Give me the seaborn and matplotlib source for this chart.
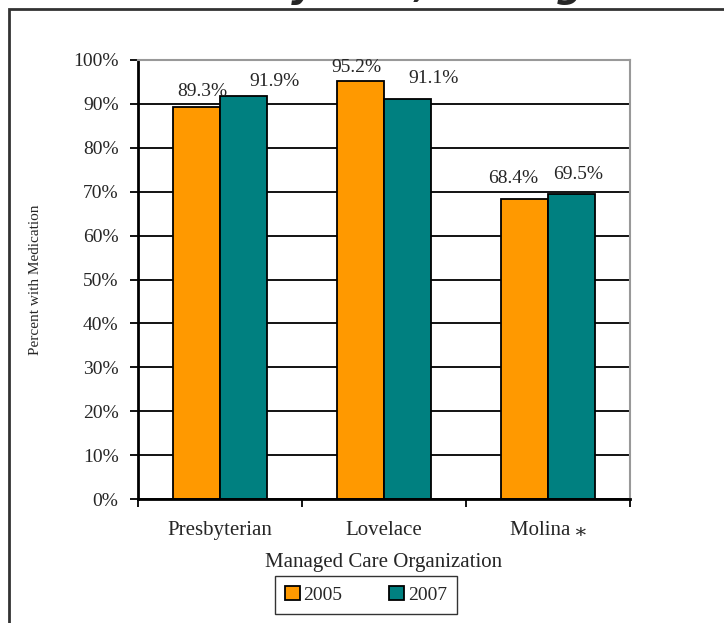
import pandas as pd
import matplotlib
matplotlib.use("Agg")
import matplotlib.pyplot as plt
import seaborn as sns
from matplotlib.ticker import PercentFormatter
from matplotlib.patches import Rectangle

# data
organizations = ["Presbyterian", "Lovelace", "Molina \u204e"]
years = ["2005", "2007"]
pct_2005 = [89.3, 95.2, 68.4]
pct_2007 = [91.9, 91.1, 69.5]
bar_colors = ["#FF9900", "#008080"]

# label nudges (pixels) to mimic where Excel put the data labels
label_dx = [[6, -4, -11], [31, 26, 7]]
label_dy = [[11, 9, 16], [10, 16, 15]]

df = pd.DataFrame({
    "org": organizations * 2,
    "year": [years[0]] * 3 + [years[1]] * 3,
    "pct": pct_2005 + pct_2007,
})

sns.set_style("white")
plt.rcParams["font.family"] = ["Liberation Serif", "DejaVu Serif"]

fig = plt.figure(figsize=(7.24, 6.23), dpi=100)
ax = fig.add_axes([0.1906, 0.199, 0.6796, 0.7047])

sns.barplot(data=df, x="org", y="pct", hue="year", palette=bar_colors, saturation=1,
            width=0.575, edgecolor="black", linewidth=1.3, ax=ax, legend=True)

# value labels above bars
for i, cont in enumerate(ax.containers):
    for j, bar in enumerate(cont):
        ax.annotate(f"{bar.get_height():.1f}%",
                    (bar.get_x() + bar.get_width() / 2, bar.get_height()),
                    xytext=(label_dx[i][j] * 0.72, label_dy[i][j] * 0.72),
                    textcoords="offset points", ha="center", va="baseline", fontsize=14)

ax.set_ylim(0, 100)
ax.set_xlim(-0.5, 2.5)
ax.yaxis.set_major_locator(plt.MultipleLocator(10))
ax.yaxis.set_major_formatter(PercentFormatter(decimals=0))
ax.yaxis.grid(True, color="black", linewidth=1.3)
ax.set_axisbelow(True)

# ticks at category boundaries on x
ax.set_xticks([0, 1, 2])
ax.set_xticklabels(organizations, fontsize=15)
ax.set_xticks([-0.5, 0.5, 1.5, 2.5], minor=True)
ax.tick_params(axis="x", which="major", length=0, pad=16)
ax.tick_params(axis="x", which="minor", length=6, width=1.3, color="black", direction="out")
ax.tick_params(axis="y", length=6, width=1.3, color="black", direction="out", labelsize=14, pad=8)
ax.xaxis.set_tick_params(bottom=True, which="both")
ax.yaxis.set_tick_params(left=True)

for s in ["left", "bottom"]:
    ax.spines[s].set_color("black")
    ax.spines[s].set_linewidth(2)
for s in ["top", "right"]:
    ax.spines[s].set_color("#999999")
    ax.spines[s].set_linewidth(1.5)

ax.set_xlabel("Managed Care Organization", fontsize=15, labelpad=9)
ax.set_ylabel("Percent with Medication", fontsize=11, labelpad=22)

leg = ax.legend(loc="center", bbox_to_anchor=(0.5055, 0.045), bbox_transform=fig.transFigure,
                ncol=2, frameon=True, fontsize=14, handlelength=0.75, handleheight=0.75,
                handletextpad=0.2, columnspacing=2.4, borderpad=0.5, fancybox=False)
leg.get_frame().set_edgecolor("black")
leg.get_frame().set_linewidth(1)

# outer frame of the slide (cropped at right and bottom)
fig.patches.append(Rectangle((9 / 724, -0.1), 1.2, 1 - 9 / 623 + 0.1, transform=fig.transFigure,
                             fill=False, edgecolor="#333333", linewidth=2))

# title cut off at the top of the picture
fig.text(0.5, 1 + 3 / 623, "Antidepressant Use by Year, Managed Care Group", ha="center", va="baseline",
         fontsize=27, fontweight="bold", fontstyle="italic", family="DejaVu Sans")

fig.savefig("out.png", dpi=100)
